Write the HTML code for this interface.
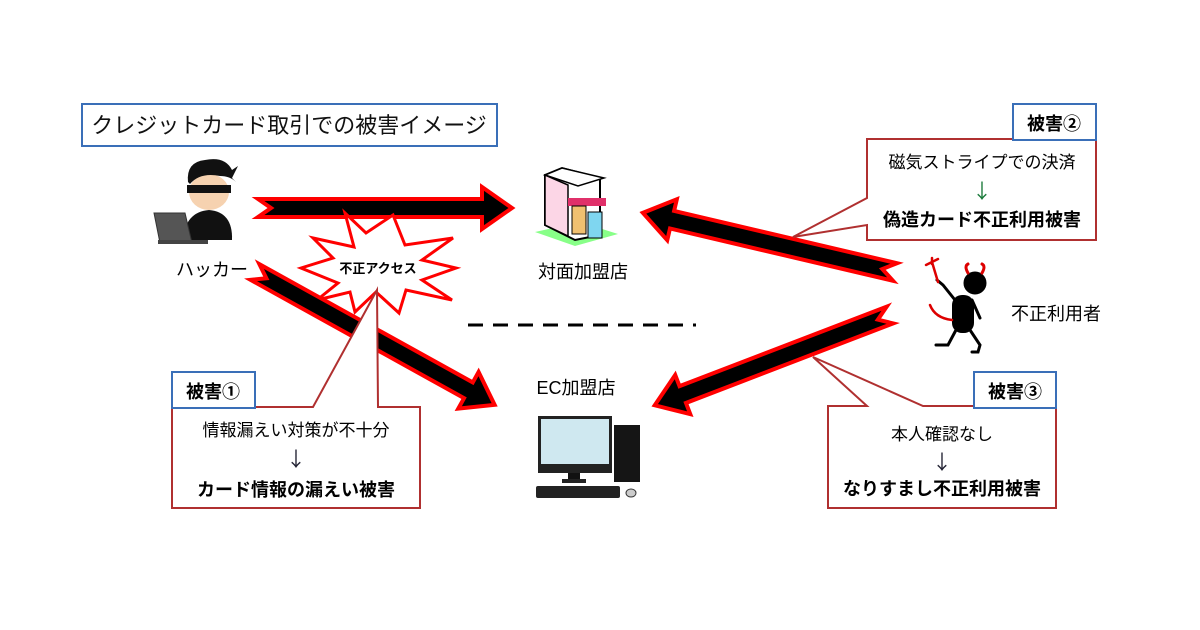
<!DOCTYPE html>
<html><head><meta charset="utf-8"><style>
html,body{margin:0;padding:0;background:#fff;width:1200px;height:630px;overflow:hidden}
svg text{font-family:"Liberation Sans","Noto Sans CJK JP",sans-serif}
svg text.ar{font-family:"Noto Sans CJK JP",sans-serif}
</style></head><body>
<svg width="1200" height="630" viewBox="0 0 1200 630" xmlns="http://www.w3.org/2000/svg">
<rect width="1200" height="630" fill="#fff"/>
<!-- title -->
<rect x="82" y="104" width="415" height="42" fill="#fff" stroke="#3a6fb8" stroke-width="2"/>
<text x="289" y="133" font-size="22" text-anchor="middle" fill="#111">クレジットカード取引での被害イメージ</text>

<!-- arrows -->
<g fill="#000" stroke="#f00" stroke-width="4" stroke-linejoin="miter">
<polygon transform="translate(258,208) rotate(0)" points="0,-9 224,-9 224,-21 254,0 224,21 224,9 0,9 13,0"/>
<polygon transform="translate(895,272) rotate(193.2)" points="0,-9 229,-9 229,-21 259,0 229,21 229,9 0,9 13,0"/>
<polygon transform="translate(890,315) rotate(159)" points="0,-9 222,-9 222,-21 252,0 222,21 222,9 0,9 13,0"/>
</g>

<!-- starburst -->
<polygon fill="#fff" stroke="#f00" stroke-width="3" points="393,215 405,245 453,238 422,260 456,268 422,280 452,300 406,290 399,313 376,292 355,312 350,292 317,300 338,283 301,268 333,258 313,238 354,247 345,213 366,233 393,215"/>
<text x="378" y="273" font-size="13" font-weight="bold" text-anchor="middle" fill="#000">不正アクセス</text>

<polygon transform="translate(255,272) rotate(29)" fill="#000" stroke="#f00" stroke-width="4" points="0,-9 244,-9 244,-21 274,0 244,21 244,9 0,9 13,0"/>

<!-- dashed line -->
<line x1="468" y1="325" x2="696" y2="325" stroke="#000" stroke-width="3" stroke-dasharray="15,10"/>

<!-- callout 1 -->
<path d="M172,407 L313,407 L377,290 L378,407 L420,407 L420,508 L172,508 Z" fill="#fff" stroke="#b03030" stroke-width="2"/>
<rect x="172" y="372" width="83" height="36" fill="#fff" stroke="#3a6fb8" stroke-width="2"/>
<text x="213" y="398" font-size="18" font-weight="bold" text-anchor="middle">被害①</text>
<text x="296" y="436" font-size="17" text-anchor="middle">情報漏えい対策が不十分</text>
<text class="ar" x="296" y="466" font-size="20" text-anchor="middle" fill="#223">↓</text>
<text x="296" y="496" font-size="18" font-weight="bold" text-anchor="middle">カード情報の漏えい被害</text>

<!-- callout 2 -->
<path d="M867,139 L1096,139 L1096,240 L867,240 L867,225 L793,237 L867,198 Z" fill="#fff" stroke="#b03030" stroke-width="2"/>
<rect x="1013" y="104" width="83" height="36" fill="#fff" stroke="#3a6fb8" stroke-width="2"/>
<text x="1054" y="130" font-size="18" font-weight="bold" text-anchor="middle">被害②</text>
<text x="982" y="168" font-size="17" text-anchor="middle">磁気ストライプでの決済</text>
<text class="ar" x="982" y="198" font-size="20" text-anchor="middle" fill="#1a7a3a">↓</text>
<text x="982" y="226" font-size="18" font-weight="bold" text-anchor="middle">偽造カード不正利用被害</text>

<!-- callout 3 -->
<path d="M828,406 L867,406 L813,357 L923,406 L1056,406 L1056,508 L828,508 Z" fill="#fff" stroke="#b03030" stroke-width="2"/>
<rect x="974" y="372" width="82" height="36" fill="#fff" stroke="#3a6fb8" stroke-width="2"/>
<text x="1015" y="398" font-size="18" font-weight="bold" text-anchor="middle">被害③</text>
<text x="942" y="440" font-size="17" text-anchor="middle">本人確認なし</text>
<text class="ar" x="942" y="469" font-size="20" text-anchor="middle" fill="#223">↓</text>
<text x="942" y="495" font-size="18" font-weight="bold" text-anchor="middle">なりすまし不正利用被害</text>

<!-- labels -->
<text x="212" y="276" font-size="18" text-anchor="middle">ハッカー</text>
<text x="583" y="278" font-size="18" text-anchor="middle">対面加盟店</text>
<text x="576" y="394" font-size="18" text-anchor="middle">EC加盟店</text>
<text x="1056" y="320" font-size="18" text-anchor="middle">不正利用者</text>

<!-- hacker -->
<g>
<path d="M183,240 Q185,212 209,210 Q233,212 232,240 Z" fill="#111"/>
<ellipse cx="209" cy="192" rx="20" ry="18" fill="#f6d2b0"/>
<path d="M188,182 Q186,162 205,160 Q225,156 232,170 L238,166 L232,178 L236,182 Q230,176 220,176 Q200,172 190,184 Z" fill="#111"/>
<rect x="187" y="185" width="44" height="8" fill="#111"/>
<polygon points="154,213 185,213 192,243 160,243" fill="#555" stroke="#333" stroke-width="1"/>
<rect x="158" y="240" width="50" height="4" fill="#444"/>
</g>

<!-- shop -->
<g>
<polygon points="535,232 575,246 618,234 580,222" fill="#8f8"/>
<polygon points="545,175 562,168 600,178 600,235 575,240 545,225" fill="#fff" stroke="#000" stroke-width="2"/>
<polygon points="545,175 545,225 568,236 568,185" fill="#fcd6e6" stroke="#000" stroke-width="1.5"/>
<polygon points="545,175 562,168 604,178 578,186" fill="#fff" stroke="#000" stroke-width="1.5"/>
<rect x="568" y="198" width="38" height="8" fill="#e0306a"/>
<rect x="572" y="206" width="14" height="28" fill="#f0c070" stroke="#000"/>
<rect x="588" y="212" width="14" height="26" fill="#7fd6f0" stroke="#000"/>
</g>

<!-- computer -->
<g>
<rect x="538" y="416" width="74" height="57" fill="#222"/>
<rect x="541" y="419" width="68" height="45" fill="#cfe8f0"/>
<rect x="568" y="473" width="12" height="6" fill="#111"/>
<rect x="562" y="479" width="24" height="4" fill="#222"/>
<rect x="614" y="425" width="26" height="57" fill="#151515"/>
<rect x="536" y="486" width="84" height="12" rx="2" fill="#222"/>
<ellipse cx="631" cy="493" rx="5" ry="4" fill="#ccc" stroke="#333"/>
</g>

<!-- devil -->
<g stroke="#000" fill="none" stroke-linecap="round">
<circle cx="975" cy="283" r="11" fill="#000"/>
<path d="M968,273 Q964,266 968,264 M982,273 Q986,266 982,264" stroke="#d00" stroke-width="3"/>
<rect x="952" y="295" width="22" height="38" rx="10" fill="#000" stroke="none"/>
<path d="M955,300 L943,285 L937,280" stroke-width="3"/>
<path d="M938,282 L932,262 M926,265 L938,259 M932,258 L932,264" stroke="#d00" stroke-width="2.5"/>
<path d="M952,320 Q935,318 930,305" stroke="#d00" stroke-width="2.5"/>
<path d="M956,330 L948,345 L936,345" stroke-width="3"/>
<path d="M970,330 L980,345 L978,352 L972,352" stroke-width="3"/>
<path d="M972,300 L980,318" stroke-width="3"/>
</g>
</svg>
</body></html>
